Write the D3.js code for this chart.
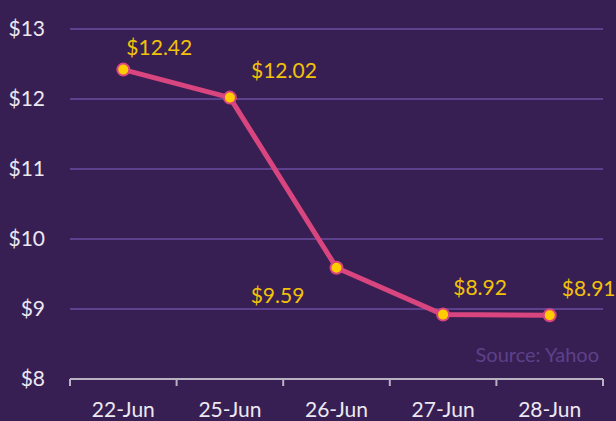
<!DOCTYPE html>
<html>
<head>
<meta charset="utf-8">
<script src="https://cdn.jsdelivr.net/npm/d3@7"></script>
<style>
  body { margin: 0; background: #381f53; }
  svg { display: block; font-family: Lato, "Open Sans", sans-serif; }
</style>
</head>
<body>
<div id="chart"></div>
<script>
// chart data
var dates = ["22-Jun", "25-Jun", "26-Jun", "27-Jun", "28-Jun"];
var prices = [12.42, 12.02, 9.59, 8.92, 8.91];
var yTicks = [8, 9, 10, 11, 12, 13];

// label placement relative to each point (dx, dy)
var labelOffsets = [[36, -22], [54, -27], [-59, 28], [37, -27], [39, -27]];

var width = 616, height = 421;
var margin = {top: 29, right: 13, bottom: 42, left: 70};

var svg = d3.select("#chart").append("svg")
  .attr("width", width)
  .attr("height", height);

svg.append("rect").attr("width", width).attr("height", height).attr("fill", "#381f53");

var x = d3.scaleBand()
  .domain(dates)
  .range([margin.left, width - margin.right]);

var y = d3.scaleLinear()
  .domain([8, 13])
  .range([height - margin.bottom, margin.top]);

// gridlines
svg.append("g")
  .selectAll("line")
  .data(yTicks.filter(d => d > 8))
  .enter().append("line")
  .attr("x1", margin.left)
  .attr("x2", width - margin.right)
  .attr("y1", d => y(d))
  .attr("y2", d => y(d))
  .attr("stroke", "#5e418c")
  .attr("stroke-width", 2);

// y labels
svg.append("g")
  .selectAll("text")
  .data(yTicks)
  .enter().append("text")
  .attr("x", 45)
  .attr("y", d => y(d))
  .attr("dy", "0.35em")
  .attr("text-anchor", "end")
  .attr("fill", "#ece8f2")
  .attr("font-size", "21px")
  .text(d => "$" + d);

// x axis
var xAxis = svg.append("g")
  .attr("transform", "translate(0," + y(8) + ")");

xAxis.append("line")
  .attr("x1", margin.left).attr("x2", width - margin.right)
  .attr("stroke", "#b9b2c2").attr("stroke-width", 2);

var edges = dates.map(d => x(d)).concat([x.range()[1]]);
xAxis.selectAll(".tick")
  .data(edges)
  .enter().append("line")
  .attr("x1", d => d).attr("x2", d => d)
  .attr("y1", 0).attr("y2", 7)
  .attr("stroke", "#b9b2c2").attr("stroke-width", 2);

xAxis.selectAll(".xlabel")
  .data(dates)
  .enter().append("text")
  .attr("x", d => x(d) + x.bandwidth() / 2)
  .attr("y", 31)
  .attr("dy", "0.35em")
  .attr("text-anchor", "middle")
  .attr("fill", "#ece8f2")
  .attr("font-size", "21px")
  .text(d => d);

// line
var line = d3.line()
  .x((d, i) => x(dates[i]) + x.bandwidth() / 2)
  .y(d => y(d));

svg.append("path")
  .datum(prices)
  .attr("d", line)
  .attr("fill", "none")
  .attr("stroke", "#d9467f")
  .attr("stroke-width", 5)
  .attr("stroke-linejoin", "round");

svg.append("g")
  .selectAll("circle")
  .data(prices)
  .enter().append("circle")
  .attr("cx", (d, i) => x(dates[i]) + x.bandwidth() / 2)
  .attr("cy", d => y(d))
  .attr("r", 6)
  .attr("fill", "#ffcc00")
  .attr("stroke", "#d9467f")
  .attr("stroke-width", 2);

// value labels
svg.append("g")
  .selectAll("text")
  .data(prices)
  .enter().append("text")
  .attr("x", (d, i) => x(dates[i]) + x.bandwidth() / 2 + labelOffsets[i][0])
  .attr("y", (d, i) => y(d) + labelOffsets[i][1])
  .attr("dy", "0.35em")
  .attr("text-anchor", "middle")
  .attr("fill", "#f2c20a")
  .attr("font-size", "21px")
  .text(d => "$" + d.toFixed(2));

// source
svg.append("text")
  .attr("x", 599)
  .attr("y", 355)
  .attr("dy", "0.35em")
  .attr("text-anchor", "end")
  .attr("fill", "#5d4189")
  .attr("font-size", "20px")
  .text("Source: Yahoo");
</script>
</body>
</html>
